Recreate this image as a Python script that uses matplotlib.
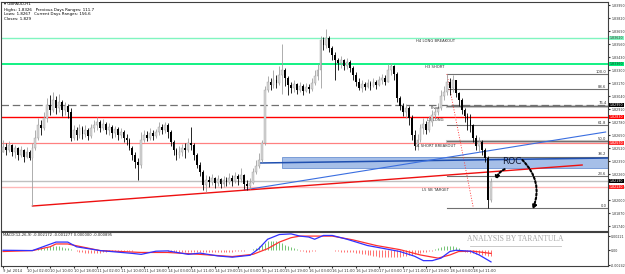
import numpy as np
import matplotlib.pyplot as plt
from matplotlib.patches import Rectangle
from matplotlib.ticker import MultipleLocator, FormatStrFormatter

# GBPAUD H1 candles, bar 0 = 9 Jul 2014 18:00
open0 = 1.8248
closes = [1.8253, 1.8250, 1.8255, 1.8248, 1.8252, 1.8245, 1.8250, 1.8243, 1.8248, 1.8242,
          1.8252, 1.8262, 1.8275, 1.8272, 1.8282, 1.8295, 1.8290, 1.8300, 1.8292, 1.8298,
          1.8290, 1.8294, 1.8288, 1.8262, 1.8270, 1.8265, 1.8272, 1.8266, 1.8270, 1.8264,
          1.8272, 1.8275, 1.8278, 1.8272, 1.8276, 1.8270, 1.8273, 1.8267, 1.8271, 1.8265,
          1.8268, 1.8262, 1.8260, 1.8252, 1.8245, 1.8238, 1.8235, 1.8260, 1.8265, 1.8262,
          1.8267, 1.8264, 1.8268, 1.8273, 1.8270, 1.8275, 1.8268, 1.8258, 1.8250, 1.8245,
          1.8248, 1.8252, 1.8250, 1.8257, 1.8255, 1.8245, 1.8235, 1.8228, 1.8215, 1.8220,
          1.8218, 1.8222, 1.8217, 1.8221, 1.8216, 1.8220, 1.8218, 1.8222, 1.8219, 1.8224,
          1.8221, 1.8225, 1.8216, 1.8214, 1.8217, 1.8228, 1.8234, 1.8240, 1.8257, 1.8310,
          1.8318, 1.8315, 1.8320, 1.8317, 1.8325, 1.8330, 1.8322, 1.8315, 1.8312, 1.8316,
          1.8310, 1.8314, 1.8309, 1.8313, 1.8311, 1.8317, 1.8324, 1.8330, 1.8360, 1.8355,
          1.8362, 1.8352, 1.8345, 1.8340, 1.8337, 1.8340, 1.8334, 1.8338, 1.8332, 1.8325,
          1.8318, 1.8312, 1.8316, 1.8313, 1.8317, 1.8314, 1.8318, 1.8315, 1.8320, 1.8322,
          1.8318, 1.8330, 1.8334, 1.8326, 1.8302, 1.8294, 1.8288, 1.8292, 1.8282, 1.8265,
          1.8254, 1.8260, 1.8272, 1.8276, 1.8270, 1.8278, 1.8285, 1.8288, 1.8292, 1.8304,
          1.8308, 1.8318, 1.8312, 1.8320, 1.8307, 1.8300, 1.8290, 1.8284, 1.8280, 1.8275,
          1.8262, 1.8254, 1.8258, 1.8250, 1.8242, 1.8200, 1.8218]
highs = [1.8260, 1.8257, 1.8259, 1.8256, 1.8255, 1.8253, 1.8254, 1.8251, 1.8253, 1.8250,
         1.8257, 1.8270, 1.8282, 1.8280, 1.8288, 1.8302, 1.8305, 1.8308, 1.8304, 1.8306,
         1.8300, 1.8298, 1.8296, 1.8292, 1.8275, 1.8273, 1.8276, 1.8274, 1.8275, 1.8272,
         1.8276, 1.8280, 1.8283, 1.8280, 1.8281, 1.8278, 1.8277, 1.8275, 1.8274, 1.8273,
         1.8272, 1.8270, 1.8266, 1.8262, 1.8254, 1.8248, 1.8242, 1.8268, 1.8270, 1.8269,
         1.8272, 1.8270, 1.8271, 1.8278, 1.8276, 1.8278, 1.8277, 1.8270, 1.8260, 1.8252,
         1.8254, 1.8256, 1.8257, 1.8262, 1.8273, 1.8257, 1.8247, 1.8238, 1.8230, 1.8225,
         1.8224, 1.8226, 1.8223, 1.8225, 1.8222, 1.8224, 1.8223, 1.8227, 1.8225, 1.8228,
         1.8226, 1.8232, 1.8226, 1.8220, 1.8222, 1.8232, 1.8240, 1.8247, 1.8260, 1.8314,
         1.8324, 1.8322, 1.8330, 1.8325, 1.8334, 1.8356, 1.8332, 1.8324, 1.8318, 1.8320,
         1.8317, 1.8318, 1.8316, 1.8317, 1.8316, 1.8322, 1.8330, 1.8336, 1.8364, 1.8363,
         1.8371, 1.8364, 1.8354, 1.8348, 1.8342, 1.8344, 1.8341, 1.8342, 1.8340, 1.8334,
         1.8328, 1.8322, 1.8320, 1.8318, 1.8321, 1.8319, 1.8322, 1.8320, 1.8324, 1.8326,
         1.8325, 1.8336, 1.8337, 1.8335, 1.8328, 1.8304, 1.8297, 1.8296, 1.8294, 1.8285,
         1.8270, 1.8266, 1.8276, 1.8282, 1.8279, 1.8284, 1.8290, 1.8293, 1.8297, 1.8310,
         1.8314, 1.8326, 1.8322, 1.8325, 1.8320, 1.8308, 1.8302, 1.8292, 1.8287, 1.8286,
         1.8276, 1.8265, 1.8263, 1.8260, 1.8252, 1.8244, 1.8222]
lows = [1.8248, 1.8245, 1.8248, 1.8244, 1.8242, 1.8240, 1.8243, 1.8238, 1.8242, 1.8240,
        1.8194, 1.8250, 1.8260, 1.8265, 1.8270, 1.8278, 1.8285, 1.8288, 1.8286, 1.8288,
        1.8284, 1.8285, 1.8282, 1.8259, 1.8260, 1.8260, 1.8262, 1.8261, 1.8263, 1.8260,
        1.8262, 1.8268, 1.8270, 1.8268, 1.8270, 1.8266, 1.8265, 1.8262, 1.8263, 1.8260,
        1.8262, 1.8258, 1.8255, 1.8250, 1.8240, 1.8232, 1.8220, 1.8232, 1.8258, 1.8259,
        1.8260, 1.8260, 1.8262, 1.8265, 1.8266, 1.8267, 1.8262, 1.8254, 1.8245, 1.8240,
        1.8242, 1.8244, 1.8242, 1.8248, 1.8250, 1.8240, 1.8232, 1.8224, 1.8210, 1.8208,
        1.8213, 1.8215, 1.8212, 1.8214, 1.8212, 1.8213, 1.8214, 1.8216, 1.8214, 1.8217,
        1.8215, 1.8218, 1.8211, 1.8210, 1.8211, 1.8216, 1.8226, 1.8232, 1.8238, 1.8255,
        1.8308, 1.8310, 1.8312, 1.8312, 1.8315, 1.8306, 1.8314, 1.8305, 1.8307, 1.8308,
        1.8306, 1.8308, 1.8305, 1.8308, 1.8307, 1.8309, 1.8315, 1.8320, 1.8312, 1.8350,
        1.8352, 1.8348, 1.8340, 1.8320, 1.8330, 1.8332, 1.8330, 1.8331, 1.8328, 1.8320,
        1.8314, 1.8310, 1.8308, 1.8310, 1.8312, 1.8310, 1.8313, 1.8311, 1.8314, 1.8316,
        1.8315, 1.8318, 1.8325, 1.8320, 1.8298, 1.8290, 1.8284, 1.8282, 1.8275, 1.8260,
        1.8250, 1.8250, 1.8258, 1.8266, 1.8266, 1.8268, 1.8274, 1.8282, 1.8285, 1.8290,
        1.8300, 1.8305, 1.8305, 1.8308, 1.8303, 1.8294, 1.8286, 1.8278, 1.8270, 1.8268,
        1.8258, 1.8250, 1.8248, 1.8245, 1.8238, 1.8192, 1.8198]
opens = [open0] + closes[:-1]

# horizontal levels
level_names = ["H4 LONG BREAKOUT", "H3 SHORT", "Pivot", "L3 LONG", "L4 SHORT BREAKOUT", "", "L5 SB TARGET"]
level_prices = [1.8362, 1.8336, 1.8295, 1.8283, 1.8257, 1.8219, 1.8213]
level_tags = ["1.83620", "1.83360", "1.82950", "1.82830", "1.82570", "1.82190", "1.82130"]

# fibo retracement
fib_start_bar = 151
fib_end_bar = 160
fib_high = 1.8326
fib_low = 1.8192
fib_levels = [100.0, 88.6, 76.4, 61.8, 50.0, 38.2, 23.6, 0.0]

# trend lines (bar, price)
red_trend = [(10, 1.8194), (197, 1.8235)]
blue_trend = [(82, 1.8210), (205, 1.8268)]
zone_line = [(87, 1.8237), (206, 1.8242)]
zone_start, zone_low, zone_high = 95, 1.8232, 1.8243

# MACD(12,26,9)
blue_idx = [0, 10, 18, 22, 25, 33, 44, 47, 52, 56, 63, 67, 73, 78, 84, 87, 90, 94, 98, 101,
            104, 106, 109, 112, 117, 124, 131, 135, 140, 143, 146, 149, 152, 154, 159, 162, 166]
blue_val = [0.0, -0.00005, 0.0013, 0.0013, 0.00055, -0.00005, -0.0005, -0.00065, -0.00015, -0.0001,
            -0.00065, -0.00045, -0.0009, -0.0011, -0.0008, 0.00025, 0.00175, 0.0025, 0.0026, 0.00225,
            0.0021, 0.00175, 0.00235, 0.00235, 0.00175, 0.00075, 0.00015, -0.0002, -0.00095, -0.00165,
            -0.00165, -0.00125, -0.0002, 0.0, -0.00015, -0.00075, -0.00185]
red_idx = [0, 10, 16, 18, 22, 33, 47, 56, 67, 78, 85, 90, 94, 98, 101, 108, 112, 119, 127, 135,
           142, 148, 152, 155, 160, 166]
red_val = [-0.0002, -0.00005, 0.00055, 0.001, 0.001, -0.00005, -0.00035, -0.00035, -0.00065, -0.001,
           -0.00065, 0.00025, 0.0013, 0.002, 0.00225, 0.00225, 0.00225, 0.00165, 0.00075, 0.0001,
           -0.00075, -0.00125, -0.00075, -0.0002, -0.00015, -0.0005]
hist_e4 = [1, 1, 1, 1, 1, 1, 1, 0.5, 0.5, 0.5,
           0.5, 1, 2,
           3, 4, 5, 6, 7, 7, 6, 5,
           4, 3, 2, 1,
           -1, -2, -3, -4, -4, -5, -5, -4, -4, -3, -2, -1,
           -1, -1, -1, -1, -1, -1, -1, -1, 1, 1, 1, 1, 1, 1, 1, 1, 0.5, 0.5, 0.5,
           -1, -1, -2, -2, -2, -2, -2, -2, -2, -2, -2, -2, -2, -2,
           -2, -2, -2, -2, -2, -2, -2, -2, -2, -1, -1, -1, -1, 1, 1, 2,
           4, 6, 9, 12, 14, 15, 15, 14, 13, 11, 9, 7, 5, 3, 2,
           -1, -1, -2, -2, -1, -1,
           1, 1, 1, 1, 1, 1,
           -1, -1, -2, -2, -2, -3,
           -3, -4, -5, -6, -6, -7, -8, -9, -9, -10, -10, -10, -11, -11, -11, -10, -10, -9, -9, -8,
           -7, -6, -5, -4, -3, -2, -1, -1,
           2, 3, 5, 6, 7, 7, 6, 5, 3,
           -1, -2, -3, -4, -5, -6, -6, -7, -8, -9, -9]

tick_bars = [0, 8, 16, 24, 32, 40, 48, 56, 64, 72, 80, 88, 96, 104, 112, 120, 128, 136, 144, 152, 160]
tick_text = ["9 Jul 2014", "10 Jul 02:00", "10 Jul 10:00", "10 Jul 18:00", "11 Jul 02:00",
             "11 Jul 10:00", "11 Jul 18:00", "14 Jul 03:00", "14 Jul 11:00", "14 Jul 19:00",
             "15 Jul 03:00", "15 Jul 11:00", "15 Jul 19:00", "16 Jul 03:00", "16 Jul 11:00",
             "16 Jul 19:00", "17 Jul 03:00", "17 Jul 11:00", "17 Jul 19:00", "18 Jul 03:00",
             "18 Jul 11:00"]

fs = 2.7
fsy = 2.35
fig = plt.figure(figsize=(6.25, 2.74), dpi=100)
ax = fig.add_axes([0.0016, 0.1569, 0.9712, 0.8358])
ax2 = fig.add_axes([0.0016, 0.0292, 0.9712, 0.1241], sharex=ax)

# candles
x = np.arange(len(closes))
o, c, h, l = map(np.array, (opens, closes, highs, lows))
up = c >= o
ax.vlines(x[up], l[up], h[up], color='#a0a0a0', lw=0.6, zorder=3)
ax.vlines(x[~up], l[~up], h[~up], color='black', lw=0.6, zorder=3)
ax.bar(x[up], (c - o)[up], bottom=o[up], width=0.62, color='#d4d4d4', edgecolor='#a0a0a0', lw=0.3, zorder=4)
ax.bar(x[~up], (c - o)[~up], bottom=o[~up], width=0.62, color='black', lw=0, zorder=4)

# levels
lvl_colors = ['#80f5c0', '#00f07a', '#707070', '#ff0000', '#ff8080', '#c0c0c0', '#ffb8b8']
lvl_styles = ['-', '-', (0, (6, 3)), '-', '-', '-', '-']
lvl_widths = [1.0, 1.3, 0.9, 1.0, 0.9, 1.0, 1.0]
tag_bg = ['#80f5c0', '#00f07a', 'black', '#ff0000', '#ff3030', 'black', '#ff2020']
tag_fg = ['#304030', '#203020', 'white', 'white', 'white', 'white', 'white']
for name, p, col, ls, lw, bg, fg, tag in zip(level_names, level_prices, lvl_colors, lvl_styles,
                                             lvl_widths, tag_bg, tag_fg, level_tags):
    ax.axhline(p, color=col, ls=ls, lw=lw, zorder=2)
    if name:
        ax.annotate(name, (147, p), xytext=(0, -1), textcoords='offset points',
                    ha='center', va='top', fontsize=fs, color='#303030', zorder=6)
    ax.text(1.003, p, tag, transform=ax.get_yaxis_transform(), ha='left', va='center',
            fontsize=fsy, color=fg, clip_on=False,
            bbox=dict(boxstyle='square,pad=0.12', fc=bg, ec='none'))

# fibo
for lv in fib_levels:
    p = fib_low + (fib_high - fib_low) * lv / 100
    ax.plot([fib_start_bar, 206], [p, p], color='#707070', lw=0.8, zorder=2)
    ax.annotate(f"{lv:.1f}", (205.3, p), xytext=(0, 0.3), textcoords='offset points',
                ha='right', va='bottom', fontsize=fs, color='#303030')
for lv in (76.4, 50.0):
    p = fib_low + (fib_high - fib_low) * lv / 100
    ax.plot([fib_start_bar, 206], [p, p], color='#c8c8c8', lw=2.2, zorder=1.5)
ax.plot([fib_start_bar, fib_end_bar], [fib_high, fib_low], color='#ff4040', lw=0.7, ls=':', zorder=2)

# zone and trend lines
ax.add_patch(Rectangle((zone_start, zone_low), 206 - zone_start, zone_high - zone_low,
                       fc='#9db8e6', ec='#4a78c8', lw=0.5, alpha=0.9, zorder=1))
ax.plot(*zip(*zone_line), color='#1f4fb0', lw=1.1, zorder=2.5)
ax.plot(*zip(*blue_trend), color='#3a6ee0', lw=0.8, zorder=2.5)
ax.plot(*zip(*red_trend), color='#ee1010', lw=1.0, zorder=2.5)

# ROC annotation
ax.text(173, 1.8239, "ROC", ha='center', va='center', fontsize=6.5, color='#101830', zorder=7)
ap = dict(arrowstyle='-|>', color='black', lw=1.5, linestyle=(0, (1, 1)), mutation_scale=5)
ax.annotate("", xy=(167.5, 1.8217), xytext=(171.5, 1.8232),
            arrowprops=dict(ap, connectionstyle='arc3,rad=0.3'), zorder=7)
ax.annotate("", xy=(179.8, 1.8188), xytext=(176, 1.8242),
            arrowprops=dict(ap, connectionstyle='arc3,rad=-0.35'), zorder=7)

ax.set_xlim(-0.7, 205.8)
ax.set_ylim(1.8169, 1.8398)
ax.yaxis.tick_right()
ax.yaxis.set_major_locator(MultipleLocator(0.0013))
ax.yaxis.set_major_formatter(FormatStrFormatter('%.5f'))
ax.tick_params(axis='y', labelsize=fsy, length=1.5, pad=0.8, colors='#303030')
ax.tick_params(axis='x', bottom=False, labelbottom=False)
for s in ax.spines.values():
    s.set_color('#404040')
    s.set_linewidth(0.8)

# header
hdr = ["\u25be GBPAUD,H1",
       "Highs: 1.8326   Previous Days Ranges: 111.7",
       "Lows: 1.8267   Current Days Ranges: 156.6",
       "Closes: 1.829"]
for txt, ypx in zip(hdr, [4, 10, 14.5, 19]):
    fig.text(4 / 625, 1 - ypx / 274, txt, fontsize=2.9, va='center', ha='left', color='black')

# MACD panel
bars = np.arange(len(hist_e4))
hv = np.array(hist_e4) * 1e-4
ax2.vlines(bars[hv >= 0], 0, hv[hv >= 0], color='#5cb85c', lw=0.6)
ax2.vlines(bars[hv < 0], 0, hv[hv < 0], color='#ff5a5a', lw=0.6)
ax2.plot(red_idx, red_val, color='#ff3030', lw=0.9)
ax2.plot(blue_idx, blue_val, color='#3030ff', lw=0.9)
ax2.set_ylim(-0.0025, 0.0029)
ax2.yaxis.tick_right()
ax2.set_yticks([0.00221, 0.0, -0.00242])
ax2.set_yticklabels(["0.00221", "0.00", "-0.00242"])
ax2.tick_params(axis='y', labelsize=fsy, length=1.5, pad=0.8, colors='#303030')
ax2.set_xticks(tick_bars)
ax2.set_xticklabels(tick_text, ha='left')
ax2.tick_params(axis='x', labelsize=fs, length=1.5, pad=1, colors='#303030')
for s in ax2.spines.values():
    s.set_color('#404040')
    s.set_linewidth(0.8)
ax2.text(0.004, 0.9, "MACD(12,26,9) -0.002172 -0.001277 0.000000 -0.000895",
         transform=ax2.transAxes, fontsize=fs, va='center', ha='left', color='#202020')
ax2.text(0.848, 0.8, "ANALYSIS BY TARANTULA", transform=ax2.transAxes, fontsize=5.5,
         family='Liberation Serif', color='#a8a8a8', ha='center', va='center')
ax2.plot([0.772, 0.922], [0.6, 0.6], transform=ax2.transAxes, color='#c0c0c0', lw=0.6)

fig.savefig('out.png', dpi=100)
